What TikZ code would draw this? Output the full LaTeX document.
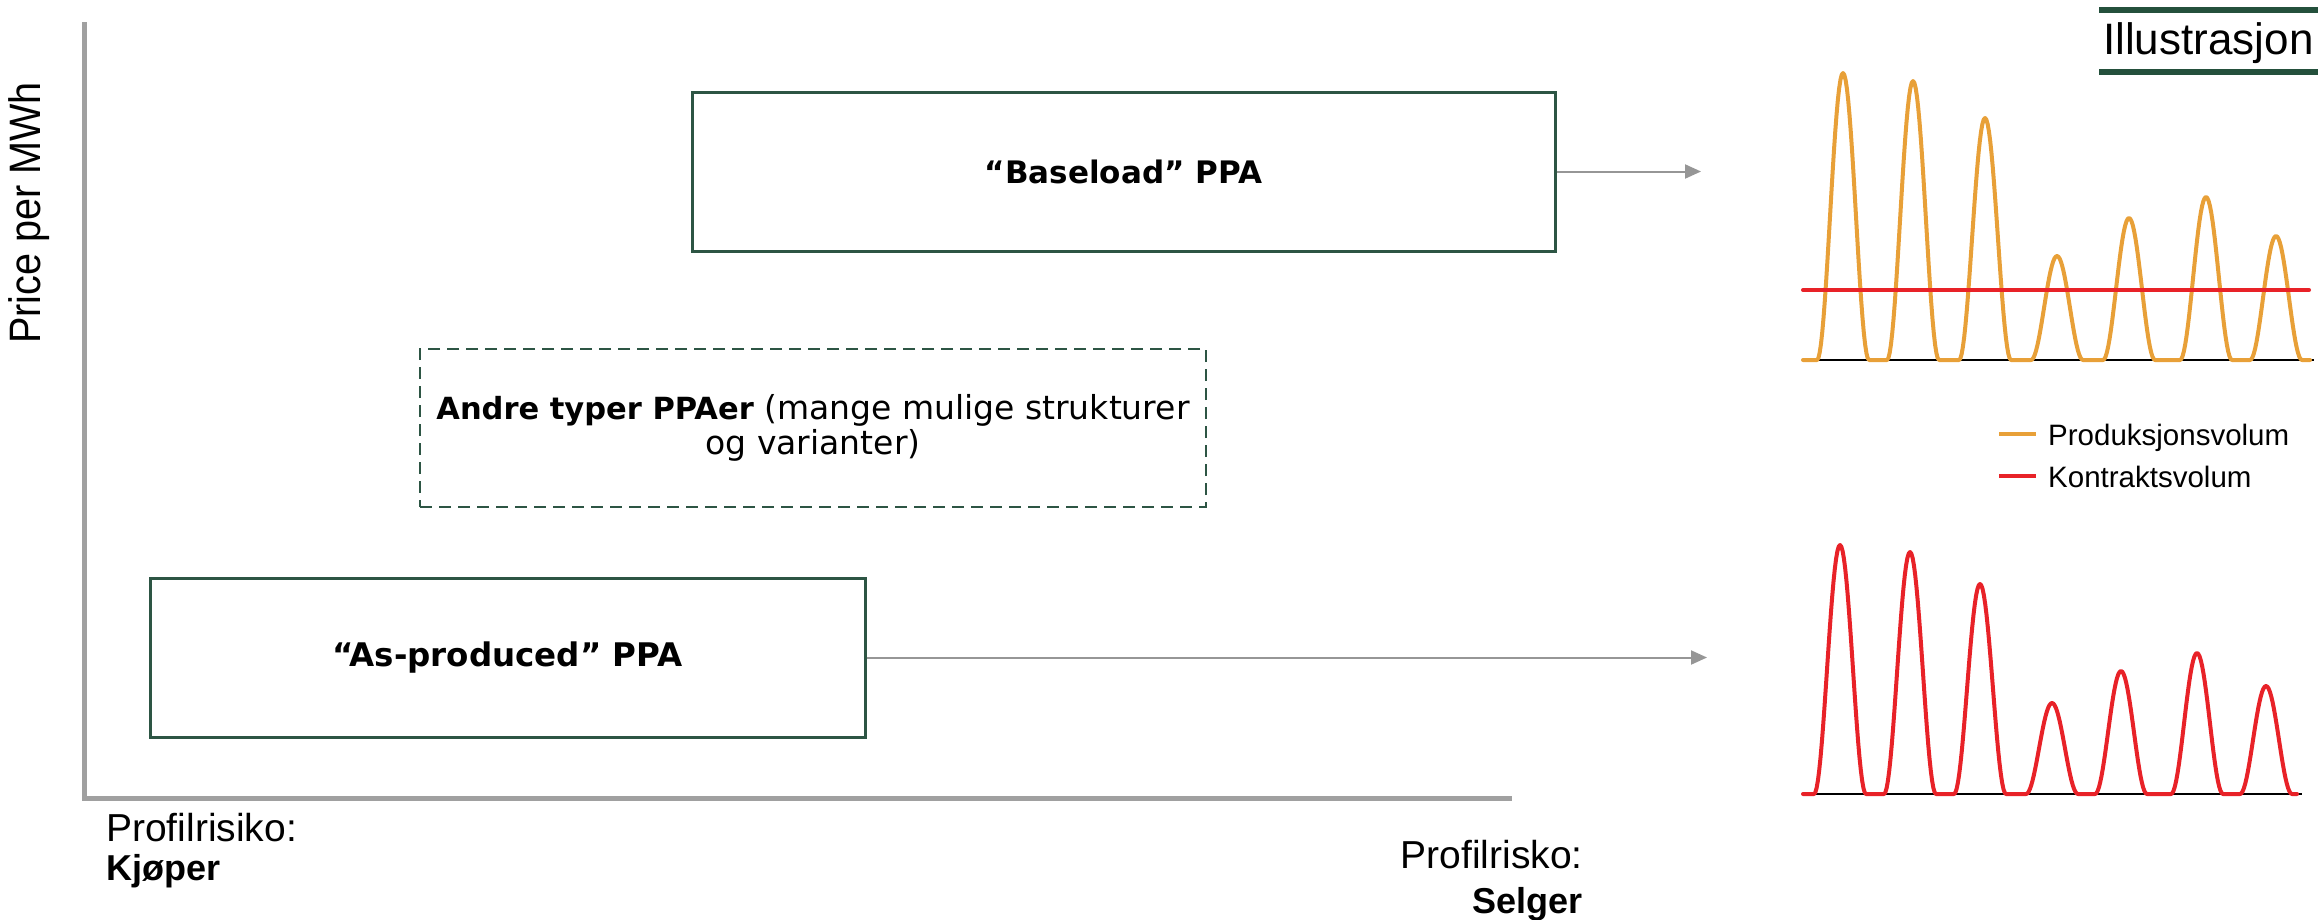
\documentclass[tikz,border=0pt]{standalone}
\usepackage{fontspec}
\usepackage{graphicx}
\setmainfont{Liberation Sans}
\newfontfamily\boxfont{DejaVu Sans}
\usetikzlibrary{arrows.meta}
\definecolor{boxgreen}{RGB}{45,85,68}
\definecolor{bargreen}{RGB}{36,80,60}
\definecolor{orangec}{RGB}{232,160,56}
\definecolor{redc}{RGB}{232,34,40}
\definecolor{axisgray}{RGB}{160,160,160}
\definecolor{arrowgray}{RGB}{150,150,150}
\begin{document}
\begin{tikzpicture}[x=1pt,y=-1pt,
  ppabox/.style={draw=boxgreen, line width=3pt, minimum height=159pt, inner sep=0pt, align=center},
  conn/.style={draw=arrowgray, line width=2pt, -{Triangle[length=16pt,width=14pt]}},
  pulse/.style={line width=4pt, line join=round, line cap=round},
  lbl/.style={inner sep=0pt, font=\fontsize{39}{44}\selectfont},
  boldlbl/.style={inner sep=0pt, font=\fontsize{36}{44}\selectfont\bfseries},
  leg/.style={inner sep=0pt, anchor=base west, font=\fontsize{29.5}{34}\selectfont}]
\useasboundingbox (0,0) rectangle (2318,919);
\fill[white] (0,0) rectangle (2318,919);

% axes
\draw[axisgray, line width=5pt] (84,22) -- (84,798) -- (1512,798);

% boxes
\node[ppabox, minimum width=863pt, font=\boxfont\fontsize{31}{36}\selectfont\bfseries] (base) at (1123.5,171.5) {“Baseload” PPA};
\node[ppabox, minimum width=715pt, font=\boxfont\fontsize{32.5}{38}\selectfont\bfseries] (asp) at (507.5,657.5) {“As-produced” PPA};
\node[ppabox, dash pattern=on 12pt off 7pt, line width=2.5pt, minimum width=786pt, minimum height=158pt, font=\boxfont\fontsize{33}{35}\selectfont] (other) at (813,428) {{\fontsize{30.5}{35}\selectfont\bfseries Andre typer PPAer} (mange mulige strukturer\\og varianter)};

\coordinate (baseend) at (1701,171.5);
\coordinate (aspend) at (1707,657.5);
\draw[conn] (base.east) -- (baseend);
\draw[conn] (asp.east) -- (aspend);

% axis labels
\node[inner sep=0pt, rotate=90] (ylab) at (29.5,213) {\scalebox{0.9}[1]{\fontsize{44}{48}\selectfont Price per MWh}};
\node[lbl, anchor=base west] (pk) at (106,841) {Profilrisiko:};
\node[boldlbl, anchor=base west] (kj) at (106,880) {Kjøper};
\node[lbl, anchor=base east] (ps) at (1583,868) {Profilrisko:};
\node[boldlbl, anchor=base east] (sel) at (1583,913) {Selger};

% Illustrasjon header
\fill[bargreen] (2099,7) rectangle (2318,13);
\fill[bargreen] (2099,69) rectangle (2318,75);
\node[inner sep=0pt, anchor=base west, font=\fontsize{44}{50}\selectfont] (ill) at (2103,54) {Illustrasjon};

% top chart
\draw[black, line width=2pt] (1810,360) -- (2314,360);
\draw[orangec, pulse] (1803,360)
  \foreach \c/\h in {1843/287,1913/279,1985/242,2057/104,2129/142,2206/163,2276/124} {
    -- plot[domain=-26:26, samples=41] ({\c+\x},{360-\h*cos(\x*180/52)*cos(\x*180/52)})
  } -- (2310,360);
\draw[redc, line width=4pt, line cap=round] (1803,290) -- (2309,290);

% legend
\draw[orangec, line width=4pt] (1999,434) -- (2036,434);
\node[leg] (lp) at (2048,445) {Produksjonsvolum};
\draw[redc, line width=4pt] (1999,476) -- (2036,476);
\node[leg] (lk) at (2048,487) {Kontraktsvolum};

% bottom chart
\draw[black, line width=2pt] (1810,794) -- (2302,794);
\draw[redc, pulse] (1803,794)
  \foreach \c/\h in {1840/249,1910/242,1980/210,2052/91,2121/123,2197/141,2266/108} {
    -- plot[domain=-26:26, samples=41] ({\c+\x},{794-\h*cos(\x*180/52)*cos(\x*180/52)})
  } -- (2297,794);
\end{tikzpicture}
\end{document}
